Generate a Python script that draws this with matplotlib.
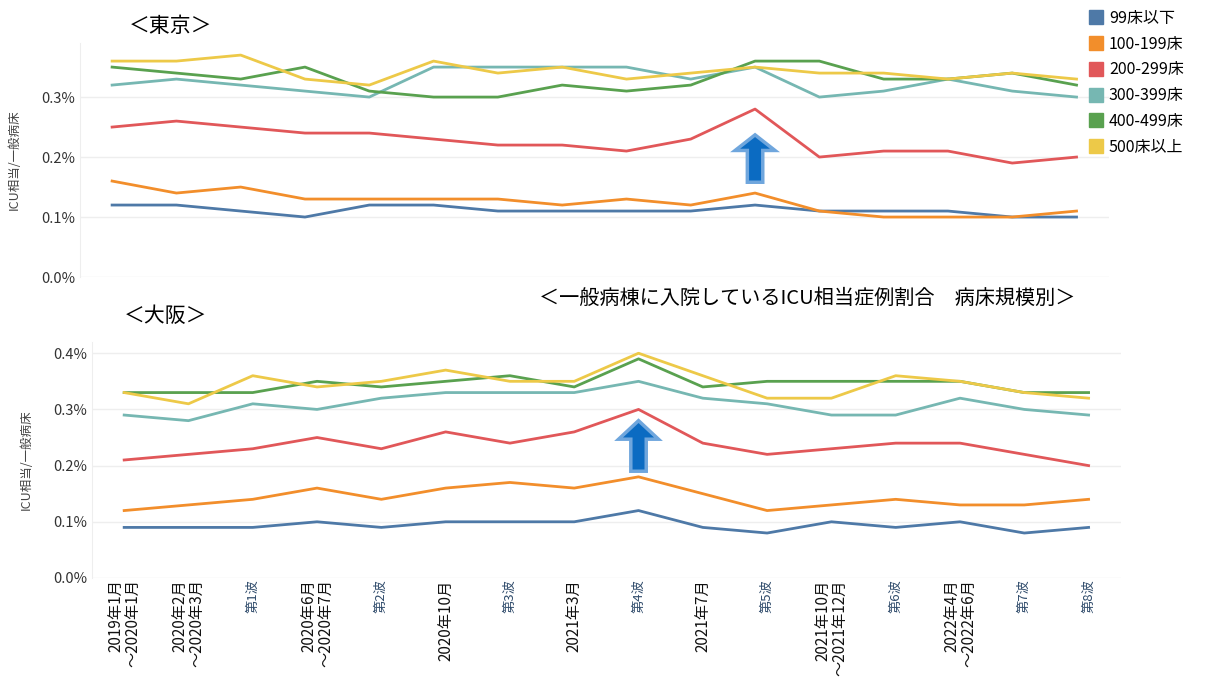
import numpy as np
import matplotlib
matplotlib.use("Agg")
import matplotlib.pyplot as plt
from matplotlib.lines import Line2D
from matplotlib.patches import FancyArrow

plt.rcParams['font.family'] = ['Noto Sans CJK JP', 'DejaVu Sans']

periods = ["2019年1月\n～2020年1月", "2020年2月\n～2020年3月", "第1波",
           "2020年6月\n～2020年7月", "第2波", "2020年10月", "第3波", "2021年3月",
           "第4波", "2021年7月", "第5波", "2021年10月\n～2021年12月", "第6波",
           "2022年4月\n～2022年6月", "第7波", "第8波"]

groups = ["99床以下", "100-199床", "200-299床", "300-399床", "400-499床", "500床以上"]
colors = ["#4e79a7", "#f28e2b", "#e15759", "#76b7b2", "#59a14f", "#edc948"]

# ICU相当 / 一般病床 (%), 東京
tokyo_99 = [0.12, 0.12, 0.11, 0.10, 0.12, 0.12, 0.11, 0.11, 0.11, 0.11, 0.12, 0.11, 0.11, 0.11, 0.10, 0.10]
tokyo_100 = [0.16, 0.14, 0.15, 0.13, 0.13, 0.13, 0.13, 0.12, 0.13, 0.12, 0.14, 0.11, 0.10, 0.10, 0.10, 0.11]
tokyo_200 = [0.25, 0.26, 0.25, 0.24, 0.24, 0.23, 0.22, 0.22, 0.21, 0.23, 0.28, 0.20, 0.21, 0.21, 0.19, 0.20]
tokyo_300 = [0.32, 0.33, 0.32, 0.31, 0.30, 0.35, 0.35, 0.35, 0.35, 0.33, 0.35, 0.30, 0.31, 0.33, 0.31, 0.30]
tokyo_400 = [0.35, 0.34, 0.33, 0.35, 0.31, 0.30, 0.30, 0.32, 0.31, 0.32, 0.36, 0.36, 0.33, 0.33, 0.34, 0.32]
tokyo_500 = [0.36, 0.36, 0.37, 0.33, 0.32, 0.36, 0.34, 0.35, 0.33, 0.34, 0.35, 0.34, 0.34, 0.33, 0.34, 0.33]

# 大阪
osaka_99 = [0.09, 0.09, 0.09, 0.10, 0.09, 0.10, 0.10, 0.10, 0.12, 0.09, 0.08, 0.10, 0.09, 0.10, 0.08, 0.09]
osaka_100 = [0.12, 0.13, 0.14, 0.16, 0.14, 0.16, 0.17, 0.16, 0.18, 0.15, 0.12, 0.13, 0.14, 0.13, 0.13, 0.14]
osaka_200 = [0.21, 0.22, 0.23, 0.25, 0.23, 0.26, 0.24, 0.26, 0.30, 0.24, 0.22, 0.23, 0.24, 0.24, 0.22, 0.20]
osaka_300 = [0.29, 0.28, 0.31, 0.30, 0.32, 0.33, 0.33, 0.33, 0.35, 0.32, 0.31, 0.29, 0.29, 0.32, 0.30, 0.29]
osaka_400 = [0.33, 0.33, 0.33, 0.35, 0.34, 0.35, 0.36, 0.34, 0.39, 0.34, 0.35, 0.35, 0.35, 0.35, 0.33, 0.33]
osaka_500 = [0.33, 0.31, 0.36, 0.34, 0.35, 0.37, 0.35, 0.35, 0.40, 0.36, 0.32, 0.32, 0.36, 0.35, 0.33, 0.32]

tokyo = [tokyo_99, tokyo_100, tokyo_200, tokyo_300, tokyo_400, tokyo_500]
osaka = [osaka_99, osaka_100, osaka_200, osaka_300, osaka_400, osaka_500]

x = np.arange(len(periods))

fig = plt.figure(figsize=(12.06, 6.84), dpi=100)
ax1 = fig.add_axes([0.0663, 0.595, 0.853, 0.342])
ax2 = fig.add_axes([0.0763, 0.155, 0.853, 0.345])


def style_axis(ax, ticks):
    ax.set_xlim(-0.5, len(periods) - 0.5)
    ax.set_yticks(ticks)
    ax.set_yticklabels(["%.1f%%" % t for t in ticks], fontsize=10.5, color="#333333")
    ax.grid(axis="y", color="#eeeeee", linewidth=1)
    ax.set_axisbelow(True)
    for s in ["top", "right", "bottom"]:
        ax.spines[s].set_visible(False)
    ax.spines["left"].set_color("#eeeeee")
    ax.tick_params(length=0)
    ax.set_ylabel("ICU相当/一般病床", fontsize=9, color="#444444")


for vals, c in zip(tokyo, colors):
    ax1.plot(x, vals, color=c, lw=2)
for vals, c in zip(osaka, colors):
    ax2.plot(x, vals, color=c, lw=2)

ax1.set_ylim(0, 0.39)
style_axis(ax1, [0.0, 0.1, 0.2, 0.3])
ax1.set_xticks([])
ax1.yaxis.set_label_coords(-0.058, 0.5)

ax2.set_ylim(0, 0.42)
style_axis(ax2, [0.0, 0.1, 0.2, 0.3, 0.4])
ax2.yaxis.set_label_coords(-0.058, 0.5)
ax2.set_xticks(x)
ax2.set_xticklabels(periods, rotation=90, va="top", ha="center", multialignment="right",
                    linespacing=1.0)
for lab in ax2.get_xticklabels():
    if lab.get_text().endswith("波"):
        lab.set_fontsize(9.5)
        lab.set_color("#2f4b6b")
    else:
        lab.set_fontsize(11)
        lab.set_color("#111111")
ax2.tick_params(axis="x", pad=1)

# arrows marking the rise
for ax, xi, y0, dy, hl in [(ax1, 10, 0.158, 0.079, 0.026), (ax2, 8, 0.19, 0.09, 0.033)]:
    ax.add_patch(FancyArrow(xi, y0, 0, dy - hl, width=0.24, head_width=0.62,
                            head_length=hl, length_includes_head=False,
                            facecolor="#0b6bc2", edgecolor="#6fa6dd", lw=2.5, zorder=3))

fig.text(0.107, 0.962, "＜東京＞", fontsize=15, va="center", ha="left")
fig.text(0.103, 0.538, "＜大阪＞", fontsize=15, va="center", ha="left")
fig.text(0.447, 0.563, "＜一般病棟に入院しているICU相当症例割合　病床規模別＞",
         fontsize=14.5, va="center", ha="left")

handles = [Line2D([], [], marker="s", linestyle="none", markersize=10,
                  markerfacecolor=c, markeredgecolor=c) for c in colors]
fig.legend(handles, groups, loc="upper left", bbox_to_anchor=(0.897, 0.995),
           frameon=False, fontsize=11.5, handletextpad=0.3, labelspacing=0.55,
           handlelength=1.0, borderaxespad=0)

fig.savefig("out.png", dpi=100)
